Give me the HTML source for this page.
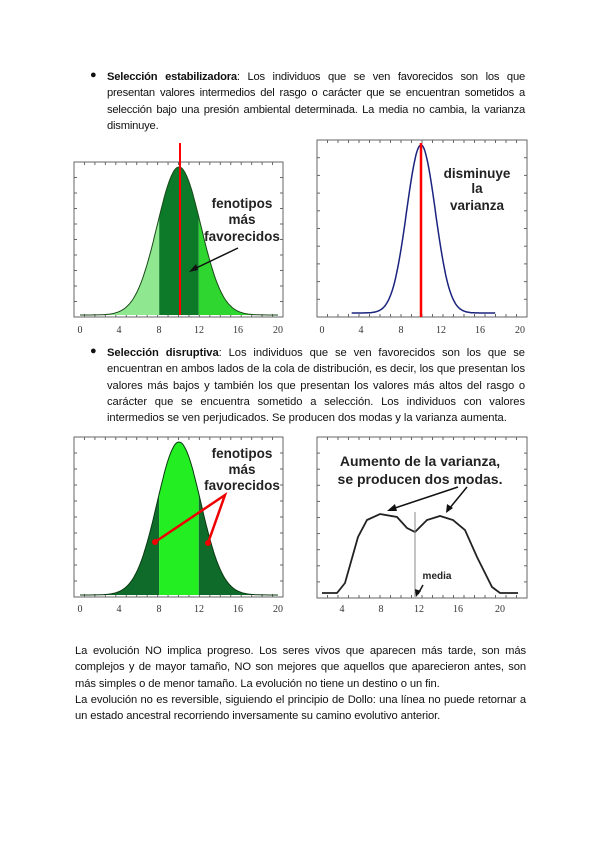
<!DOCTYPE html>
<html><head><meta charset="utf-8"><style>
body{margin:0;background:#fff;width:600px;height:848px;position:relative;overflow:hidden;font-family:"Liberation Sans",Arial,sans-serif;color:#111}
.p{position:absolute;font-size:11.2px;line-height:16.3px;text-align:justify;letter-spacing:-0.2px;word-spacing:-0.3px}
.p span{display:block;white-space:nowrap;text-align:justify;text-align-last:justify}
.p span.e{text-align-last:left}
.b{position:absolute;left:90px;font-size:11px}
svg{position:absolute;left:0;top:0}
</style></head><body>
<div class="b" style="top:69px">●</div>
<div class="p" style="left:107px;top:69px;width:418px"><b>Selección estabilizadora</b>: Los individuos que se ven favorecidos son los que presentan valores intermedios del rasgo o carácter que se encuentran sometidos a selección bajo una presión ambiental determinada. La media no cambia, la varianza disminuye.</div>
<div class="b" style="top:345px">●</div>
<div class="p" style="left:107px;top:345px;width:418px;letter-spacing:-0.05px;word-spacing:0"><b>Selección disruptiva</b>: Los individuos que se ven favorecidos son los que se encuentran en ambos lados de la cola de distribución, es decir, los que presentan los valores más bajos y también los que presentan los valores más altos del rasgo o carácter que se encuentra sometido a selección. Los individuos con valores intermedios se ven perjudicados. Se producen dos modas y la varianza aumenta.</div>
<div class="p" style="left:75px;top:643px;width:451px;letter-spacing:-0.1px;word-spacing:0">
<span>La evolución NO implica progreso. Los seres vivos que aparecen más tarde, son más</span>
<span>complejos y de mayor tamaño, NO son mejores que aquellos que aparecieron antes, son</span>
<span class="e">más simples o de menor tamaño. La evolución no tiene un destino o un fin.</span>
<span>La evolución no es reversible, siguiendo el principio de Dollo: una línea no puede retornar a</span>
<span class="e">un estado ancestral recorriendo inversamente su camino evolutivo anterior.</span>
</div>
<svg width="600" height="848" id="s" font-family="Liberation Sans, sans-serif">
<g id="g"></g>
<g font-family="Liberation Serif, serif" font-size="10" fill="#333" text-anchor="middle">
<text x="80" y="333">0</text><text x="119" y="333">4</text><text x="159" y="333">8</text><text x="199" y="333">12</text><text x="238" y="333">16</text><text x="278" y="333">20</text>
<text x="322" y="333">0</text><text x="361" y="333">4</text><text x="401" y="333">8</text><text x="441" y="333">12</text><text x="480" y="333">16</text><text x="520" y="333">20</text>
<text x="80" y="612">0</text><text x="119" y="612">4</text><text x="159" y="612">8</text><text x="199" y="612">12</text><text x="238" y="612">16</text><text x="278" y="612">20</text>
<text x="342" y="612">4</text><text x="381" y="612">8</text><text x="419" y="612">12</text><text x="458" y="612">16</text><text x="500" y="612">20</text>
</g>
<g font-weight="bold" font-size="13.5" text-anchor="middle" fill="#222">
<text x="242" y="208">fenotipos</text><text x="242" y="224">más</text><text x="242" y="241">favorecidos</text>
<text x="477" y="178">disminuye</text><text x="477" y="193">la</text><text x="477" y="210">varianza</text>
<text x="242" y="458">fenotipos</text><text x="242" y="474">más</text><text x="242" y="490">favorecidos</text>
<text x="420" y="466" font-size="14">Aumento de la varianza,</text><text x="420" y="484" font-size="14">se producen dos modas.</text>
<text x="437" y="579" font-size="10">media</text>
</g>
</svg>
<script>
var g=document.getElementById('g'),h='';
function gauss(x0,a,b,px0,sc,base,peak,s){var p=[];for(var x=a;x<=b+1e-9;x+=0.1){p.push([px0+x*sc,base-peak*Math.exp(-(x-10)*(x-10)/(2*s*s))]);}return p;}
function area(p,base,lo,hi,px0,sc,col){var pts=p.filter(function(q){return q[0]>=px0+lo*sc-0.01&&q[0]<=px0+hi*sc+0.01;});var d='M'+pts[0][0]+','+base;pts.forEach(function(q){d+='L'+q[0].toFixed(1)+','+q[1].toFixed(1)});d+='L'+pts[pts.length-1][0]+','+base+'Z';return '<path d="'+d+'" fill="'+col+'"/>';}
function line(p,col,w){return '<polyline points="'+p.map(function(q){return q[0].toFixed(1)+','+q[1].toFixed(1)}).join(' ')+'" fill="none" stroke="'+col+'" stroke-width="'+w+'"/>';}
function frame(x1,y1,x2,y2){var s='<rect x="'+x1+'" y="'+y1+'" width="'+(x2-x1)+'" height="'+(y2-y1)+'" fill="none" stroke="#666" stroke-width="1"/>';for(var i=0;i<=10;i++){var y=y1+(y2-y1)*i/10;s+='<line x1="'+x1+'" y1="'+y+'" x2="'+(x1+3)+'" y2="'+y+'" stroke="#666"/><line x1="'+(x2-3)+'" y1="'+y+'" x2="'+x2+'" y2="'+y+'" stroke="#666"/>';}for(var i=0;i<=20;i++){var x=x1+(x2-x1)*i/20;s+='<line x1="'+x+'" y1="'+y1+'" x2="'+x+'" y2="'+(y1+3)+'" stroke="#666"/><line x1="'+x+'" y1="'+(y2-3)+'" x2="'+x+'" y2="'+y2+'" stroke="#666"/>';}return s;}
h+=frame(74,162,283,317);
var p1=gauss(80,0,20,80,9.9,315,148,2.2);
h+=area(p1,315,0,8,80,9.9,'#8fe88f')+area(p1,315,8,12,80,9.9,'#0c7a28')+area(p1,315,12,20,80,9.9,'#2fd62f')+line(p1,'#1a4a1a',1);
h+='<line x1="180" y1="143" x2="180" y2="315" stroke="#f00" stroke-width="2"/>';
h+='<line x1="238" y1="248" x2="192" y2="270" stroke="#111" stroke-width="1.5"/><path d="M189,272 L196,264 L198,270Z" fill="#111"/>';
h+=frame(317,140,527,317);
var p2=gauss(322,3,17.5,322,9.9,313,168,1.45);
h+=line(p2,'#1a237e',1.5);
h+='<line x1="421" y1="143" x2="421" y2="317" stroke="#f00" stroke-width="2.5"/>';
h+=frame(74,437,283,597);
var p3=gauss(80,0,20,80,9.9,595,153,2.2);
h+=area(p3,595,0,8,80,9.9,'#0f6b2a')+area(p3,595,8,12,80,9.9,'#22ee22')+area(p3,595,12,20,80,9.9,'#0f6b2a')+line(p3,'#0a3a12',1);
h+='<polyline points="155,542 225,495 208,543" fill="none" stroke="#e00" stroke-width="2.5"/><circle cx="155" cy="542" r="3" fill="#e00"/><circle cx="208" cy="543" r="3" fill="#e00"/>';
h+=frame(317,437,527,598);
h+='<polyline points="322,593 337,593 345,583 358,537 367,520 380,514 397,517 407,528 415,532 427,520 440,516 453,520 465,530 477,557 492,587 500,593 518,593" fill="none" stroke="#222" stroke-width="1.8"/>';
h+='<line x1="415" y1="512" x2="415" y2="597" stroke="#888" stroke-width="1"/>';
h+='<line x1="458" y1="487" x2="392" y2="509" stroke="#111" stroke-width="1.5"/><path d="M387,511 L395,504 L397,511Z" fill="#111"/>';
h+='<line x1="467" y1="487" x2="449" y2="509" stroke="#111" stroke-width="1.5"/><path d="M446,513 L447,504 L453,508Z" fill="#111"/>';
h+='<line x1="423" y1="585" x2="418" y2="594" stroke="#111" stroke-width="1.5"/><path d="M416,597 L415,589 L421,591Z" fill="#111"/>';
g.innerHTML=h;
</script>
</body></html>
